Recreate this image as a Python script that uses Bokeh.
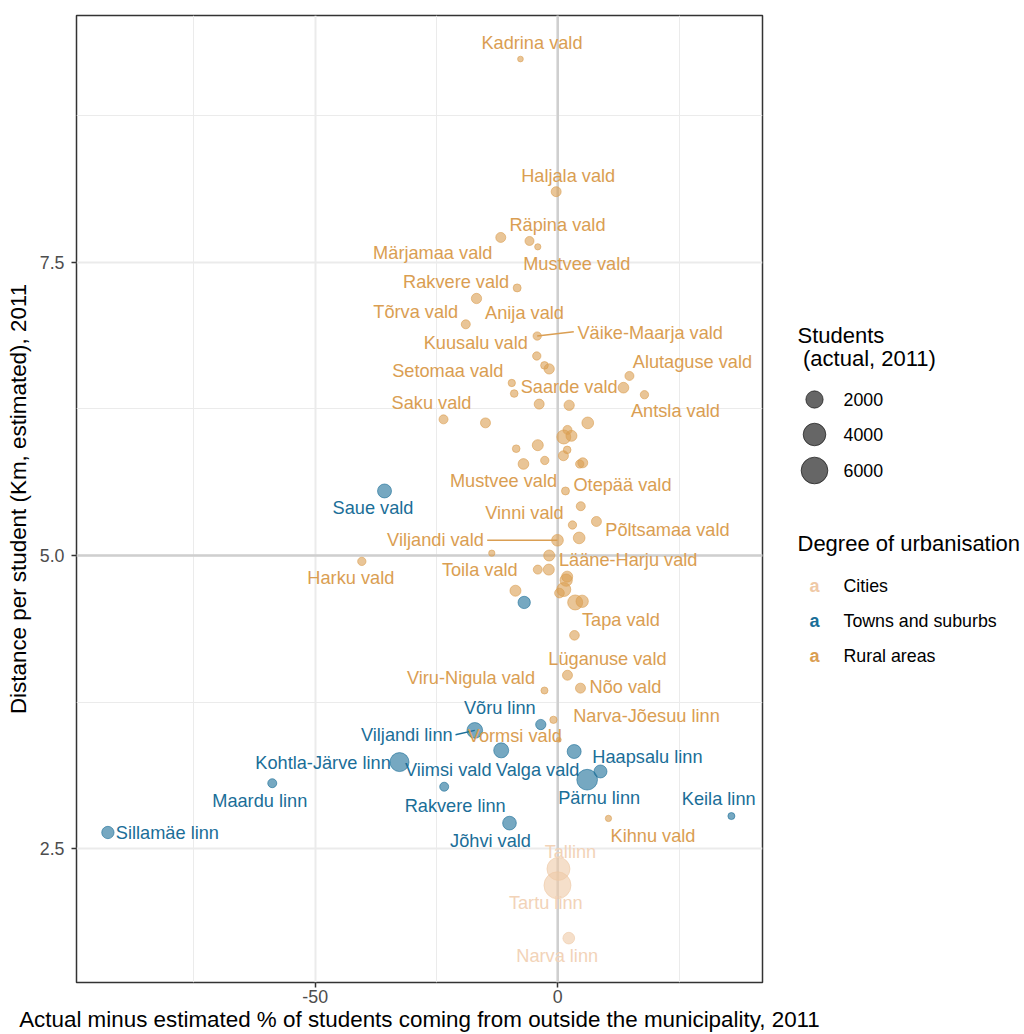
import math
from bokeh.plotting import figure
from bokeh.models import Range1d, FixedTicker, NumeralTickFormatter, Span, ColumnDataSource
from bokeh.layouts import row
from bokeh.core.properties import value
from bokeh.embed import file_html
from bokeh.resources import INLINE

# ---------------- data ----------------
names = [
    "Kadrina vald", "Haljala vald", "Märjamaa vald", "Räpina vald", "Mustvee vald",
    "Rakvere vald", "Anija vald", "Tõrva vald", "Väike-Maarja vald", "Kuusalu vald",
    "", "Saarde vald", "Alutaguse vald", "", "Antsla vald",
    "Setomaa vald", "", "", "", "Saku vald",
    "", "", "", "", "",
    "", "", "", "", "",
    "Mustvee vald", "", "", "Otepää vald", "",
    "Saue vald", "Põltsamaa vald", "Vinni vald", "", "Viljandi vald",
    "Toila vald", "Harku vald", "Lääne-Harju vald", "", "",
    "", "", "", "", "",
    "", "", "", "Tapa vald", "Lüganuse vald",
    "Nõo vald", "Viru-Nigula vald", "Narva-Jõesuu linn", "Vormsi vald", "Võru linn",
    "Viljandi linn", "Viimsi vald", "Kohtla-Järve linn", "Rakvere linn", "Jõhvi vald",
    "Valga vald", "Haapsalu linn", "Pärnu linn", "Keila linn", "Kihnu vald",
    "Maardu linn", "Sillamäe linn", "Tallinn", "Tartu linn", "Narva linn",
]
diff_pct = [
    -7.69, -0.33, -11.75, -5.83, -4.12,
    -8.37, -16.75, -18.96, -4.24, -4.33,
    -2.74, -1.77, 14.77, 13.54, 17.87,
    -9.48, -8.98, -3.83, 2.35, -23.55,
    -14.90, 6.18, 2.00, 1.24, 2.82,
    -4.12, -8.57, 1.94, 1.17, -2.68,
    -7.07, 4.53, 5.15, 1.59, 4.74,
    -35.71, 7.97, 3.03, 4.41, -0.06,
    -13.60, -40.39, -1.77, -4.12, -1.85,
    1.94, 1.73, 1.24, 0.35, -8.72,
    -6.92, 3.59, 5.03, 3.44, 2.00,
    4.68, -2.74, -0.89, 0.21, -3.50,
    -17.10, -11.66, -32.62, -23.41, -9.95,
    3.38, 8.80, 6.06, 35.79, 10.45,
    -58.85, -92.73, 0.14, -0.06, 2.27,
]
dist_km = [
    9.23, 8.10, 7.71, 7.68, 7.63,
    7.28, 7.19, 6.97, 6.87, 6.70,
    6.62, 6.59, 6.53, 6.43, 6.37,
    6.47, 6.38, 6.29, 6.28, 6.16,
    6.13, 6.13, 6.07, 6.01, 6.02,
    5.94, 5.91, 5.90, 5.85, 5.81,
    5.78, 5.78, 5.79, 5.55, 5.42,
    5.55, 5.29, 5.26, 5.15, 5.13,
    5.02, 4.95, 5.00, 4.88, 4.88,
    4.82, 4.79, 4.71, 4.68, 4.70,
    4.60, 4.60, 4.61, 4.32, 3.98,
    3.87, 3.85, 3.60, 3.43, 3.56,
    3.51, 3.34, 3.24, 3.03, 2.72,
    3.33, 3.16, 3.09, 2.78, 2.76,
    3.06, 2.64, 2.33, 2.19, 1.74,
]
students = [
    19, 370, 370, 250, 40,
    150, 410, 250, 180, 180,
    125, 410, 250, 470, 180,
    100, 125, 370, 410, 250,
    370, 640, 250, 1100, 520,
    520, 125, 125, 370, 180,
    470, 180, 370, 150, 250,
    1100, 370, 180, 640, 640,
    40, 180, 520, 250, 520,
    520, 750, 1100, 330, 520,
    750, 1350, 750, 330, 370,
    370, 80, 100, 2, 410,
    1530, 1350, 2560, 250, 1040,
    1100, 890, 3200, 80, 40,
    250, 750, 4170, 6180, 640,
]
R, T, C = "Rural areas", "Towns and suburbs", "Cities"
urban = [
    R, R, R, R, R,
    R, R, R, R, R,
    R, R, R, R, R,
    R, R, R, R, R,
    R, R, R, R, R,
    R, R, R, R, R,
    R, R, R, R, R,
    T, R, R, R, R,
    R, R, R, R, R,
    R, R, R, R, R,
    T, R, R, R, R,
    R, R, R, R, T,
    T, T, T, T, T,
    T, T, T, T, R,
    T, T, C, C, C,
]
x_ticks = [-50, 0]
x_minor = [-75, -25, 25]
y_ticks = [2.5, 5.0, 7.5]
y_minor = [3.75, 6.25, 8.75]
size_breaks = [2000, 4000, 6000]
group_order = [C, T, R]

# ---------------- layout / style ----------------
FONT = "Liberation Sans"
COL = {C: "#EFC9A6", T: "#1A6E98", R: "#DA9E52"}
LABCOL = {C: "#F2D3B8", T: "#1A6E98", R: "#DA9E52"}
W, H = 1024, 1034
ML, MR, MT, MB = 76, 262, 15, 52
X0, X1 = -99.2, 42.2
Y0, Y1 = 1.362, 9.601
PPX = (W - ML - MR) / (X1 - X0)
PPY = (H - MT - MB) / (Y1 - Y0)

# label offsets from point, screen px (dx right, dy down)
label_off = [
    (11.5, -16), (12, -16), (-68, 16), (28, -16), (39, 17),
    (-61, -6), (48, 15), (-50, -12), (113, -3), (-61, -13),
    (0, 0), (20, 18), (63, -14), (0, 0), (31, 16),
    (-64, -12), (0, 0), (0, 0), (0, 0), (-12, -16),
    (0, 0), (0, 0), (0, 0), (0, 0), (0, 0),
    (0, 0), (0, 0), (0, 0), (0, 0), (0, 0),
    (-20, 17), (0, 0), (0, 0), (57, -6), (0, 0),
    (-11.5, 17.5), (71, 9), (-48, -12), (0, 0), (-122, 0),
    (-12, 17), (-11, 17), (79, 4), (0, 0), (0, 0),
    (0, 0), (0, 0), (0, 0), (0, 0), (0, 0),
    (0, 0), (0, 0), (0, 0), (46.5, -15.5), (40, -16),
    (45, -1.5), (-73.5, -12.5), (93, -3.5), (-44, -4), (-41, -17),
    (-68, 5), (-53, 20), (-76.5, 1), (11, 19), (-19, 18),
    (-36.5, 18), (47, -14), (12, 18), (-12.7, -17), (44.5, 18),
    (-12.5, 18), (59.5, 0.5), (12, -17), (-11.7, 17.7), (-11.6, 17.5),
]
# leader segments: point index -> end offset (screen px)
leaders = {8: (36.6, -4.3), 39: (-70.3, 0), 60: (-19.3, 4.3)}


def pt_size(v):
    return 5.46 + 0.287 * math.sqrt(v) - 1.0


src = ColumnDataSource(dict(
    x=diff_pct, y=dist_km, size=[pt_size(v) for v in students],
    color=[COL[g] for g in urban],
))
lab_idx = [i for i, n in enumerate(names) if n]
lab_src = ColumnDataSource(dict(
    x=[diff_pct[i] for i in lab_idx], y=[dist_km[i] for i in lab_idx],
    text=[names[i] for i in lab_idx],
    dx=[label_off[i][0] for i in lab_idx], dy=[label_off[i][1] for i in lab_idx],
    color=[LABCOL[urban[i]] for i in lab_idx],
))
seg_src = ColumnDataSource(dict(
    x0=[diff_pct[i] for i in leaders], y0=[dist_km[i] for i in leaders],
    x1=[diff_pct[i] + leaders[i][0] / PPX for i in leaders],
    y1=[dist_km[i] - leaders[i][1] / PPY for i in leaders],
    color=[LABCOL[urban[i]] for i in leaders],
))

p = figure(width=W, height=H, x_range=Range1d(X0, X1), y_range=Range1d(Y0, Y1),
           output_backend="svg", toolbar_location=None,
           min_border_left=ML, min_border_right=MR, min_border_top=MT, min_border_bottom=MB)
p.background_fill_color = "white"
p.border_fill_color = "white"
p.outline_line_color = "#333333"
p.outline_line_width = 1.5

p.xaxis.ticker = FixedTicker(ticks=x_ticks, minor_ticks=x_minor)
p.yaxis.ticker = FixedTicker(ticks=y_ticks, minor_ticks=y_minor)
p.xaxis.formatter = NumeralTickFormatter(format="0")
p.yaxis.formatter = NumeralTickFormatter(format="0.0")
for g in (p.xgrid, p.ygrid):
    g.grid_line_color = "#EBEBEB"
    g.grid_line_width = 2
    g.minor_grid_line_color = "#EBEBEB"
    g.minor_grid_line_width = 1
for ax in (p.xaxis, p.yaxis):
    ax.axis_line_color = None
    ax.minor_tick_line_color = None
    ax.major_tick_line_color = "#333333"
    ax.major_tick_line_width = 1.5
    ax.major_tick_out = 5
    ax.major_tick_in = 0
    ax.major_label_text_font = FONT
    ax.major_label_text_font_size = "17.8px"
    ax.major_label_text_color = "#4D4D4D"
    ax.axis_label_text_font = FONT
    ax.axis_label_text_font_size = "22.4px"
    ax.axis_label_text_font_style = "normal"
    ax.axis_label_text_color = "black"
p.xaxis.major_label_standoff = 2
p.yaxis.major_label_standoff = 7
p.xaxis.axis_label = "Actual minus estimated % of students coming from outside the municipality, 2011"
p.xaxis.axis_label_standoff = 1
p.yaxis.axis_label = "Distance per student (Km, estimated), 2011"
p.yaxis.axis_label_standoff = 6

p.add_layout(Span(location=0, dimension="height", line_color="#CFCFCF", line_width=2.5, level="underlay"))
p.add_layout(Span(location=5, dimension="width", line_color="#CFCFCF", line_width=2.5, level="underlay"))

p.segment(x0="x0", y0="y0", x1="x1", y1="y1", line_color="color", line_width=1.5, source=seg_src)
p.scatter(x="x", y="y", size="size", fill_color="color", fill_alpha=0.6,
          line_color="color", line_alpha=0.6, line_width=1, source=src)
p.text(x="x", y="y", text="text", x_offset="dx", y_offset="dy", text_color="color",
       text_font=value(FONT), text_font_size="18.2px", text_align="center",
       text_baseline="middle", source=lab_src)

# ---------------- overlay: legends (pixel space, same frame rows as p) ----------------
o = figure(width=W, height=H, x_range=Range1d(0, W), y_range=Range1d(H - MB, MT),
           output_backend="svg", toolbar_location=None, x_axis_type=None, y_axis_type=None,
           min_border_left=0, min_border_right=0, min_border_top=MT, min_border_bottom=MB)
o.outline_line_color = None
o.background_fill_color = None
o.border_fill_color = None
o.grid.visible = False
o.margin = (0, 0, 0, -W)

o.text(x=[797, 802.5], y=[335, 358], text=["Students", "(actual, 2011)"],
       text_font=value(FONT), text_font_size="22px", text_color="black",
       text_align="left", text_baseline="middle")
key_y = [399, 434, 470]
o.scatter(x=[814] * 3, y=key_y, size=[pt_size(v) for v in size_breaks],
          fill_color="black", fill_alpha=0.6, line_color="black", line_alpha=0.6, line_width=1)
o.text(x=[843] * 3, y=key_y, text=[str(v) for v in size_breaks],
       text_font=value(FONT), text_font_size="17.8px", text_color="black",
       text_align="left", text_baseline="middle")

o.text(x=[797], y=[543], text=["Degree of urbanisation"],
       text_font=value(FONT), text_font_size="22px", text_color="black",
       text_align="left", text_baseline="middle")
ckey_y = [585, 620, 655]
o.text(x=[814] * 3, y=ckey_y, text=["a"] * 3, text_color=[COL[g] for g in group_order],
       text_font=value(FONT), text_font_size="18px", text_font_style="bold",
       text_align="center", text_baseline="middle")
o.text(x=[843] * 3, y=ckey_y, text=group_order,
       text_font=value(FONT), text_font_size="17.8px", text_color="black",
       text_align="left", text_baseline="middle")

lay = row(p, o)
open("out.html", "w").write(file_html(lay, INLINE))
